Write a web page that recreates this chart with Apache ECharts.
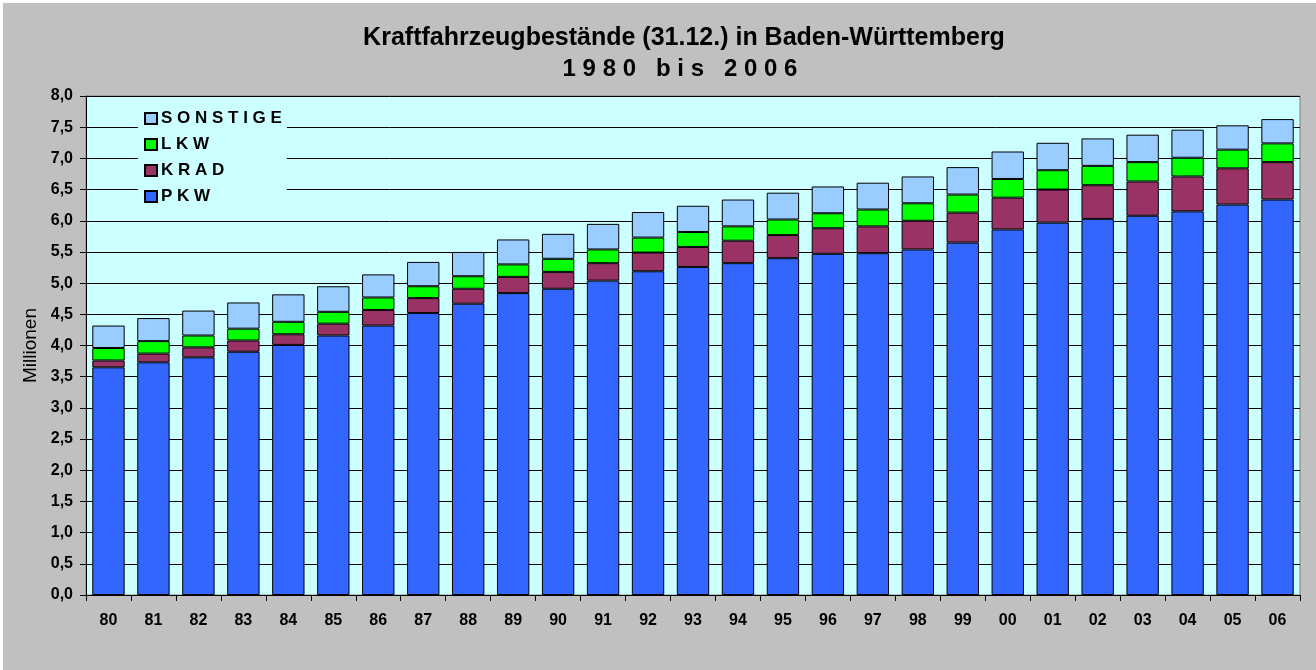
<!DOCTYPE html>
<html>
<head>
<meta charset="utf-8">
<script src="https://cdn.jsdelivr.net/npm/echarts@6/dist/echarts.min.js"></script>
<style>
	html,body{margin:0;padding:0;background:#fff;}
	#main{position:absolute;left:3px;top:3px;width:1313px;height:667px;background:#c0c0c0;}
</style>
</head>
<body>
<div id="main"></div>
<script type="text/javascript">
// Jahre (Kategorien)
var years = ['80','81','82','83','84','85','86','87','88','89','90','91','92','93','94','95','96','97','98','99','00','01','02','03','04','05','06'];
// Bestände in Millionen
var pkw   = [3.65,3.73,3.81,3.90,4.01,4.16,4.32,4.52,4.67,4.84,4.91,5.04,5.19,5.26,5.32,5.40,5.47,5.48,5.54,5.65,5.86,5.97,6.03,6.08,6.15,6.26,6.34];
var krad  = [0.11,0.14,0.16,0.18,0.17,0.19,0.25,0.24,0.24,0.26,0.27,0.28,0.30,0.32,0.36,0.37,0.41,0.43,0.46,0.48,0.51,0.53,0.54,0.55,0.56,0.58,0.60];
var lkw   = [0.20,0.20,0.19,0.19,0.20,0.19,0.20,0.19,0.20,0.20,0.21,0.22,0.24,0.24,0.23,0.25,0.24,0.27,0.28,0.29,0.30,0.31,0.31,0.31,0.30,0.30,0.30];
var sonst = [0.36,0.37,0.40,0.42,0.44,0.41,0.37,0.39,0.39,0.40,0.40,0.41,0.41,0.42,0.43,0.43,0.43,0.43,0.43,0.44,0.44,0.44,0.44,0.44,0.45,0.39,0.39];

var myChart = echarts.init(document.getElementById('main'));

function bar(name, data, color){
	return {
		name: name,
		type: 'bar',
		stack: 'kfz',
		data: data,
		barCategoryGap: '28%',
		itemStyle: {color: color, borderColor: '#000', borderWidth: 1},
		emphasis: {disabled: true}
	};
}

var option = {
	animation: false,
	textStyle: {fontFamily: 'Liberation Sans, Arial, sans-serif'},
	title: [{
		text: 'Kraftfahrzeugbestände (31.12.) in Baden-Württemberg',
		left: 681, top: 23, padding: 0, textAlign: 'center',
		textStyle: {fontSize: 25, fontWeight: 'bold', color: '#000'}
	},{
		text: '1 9 8 0   b i s   2 0 0 6',
		left: 677, top: 54, padding: 0, textAlign: 'center',
		textStyle: {fontSize: 24, fontWeight: 'bold', color: '#000'}
	}],
	legend: {
		orient: 'vertical',
		left: 135, top: 101,
		icon: 'rect',
		itemWidth: 12, itemHeight: 11,
		itemGap: 9,
		padding: [6, 5, 6, 6],
		backgroundColor: '#ccffff',
		data: ['S O N S T I G E', 'L K W', 'K R A D', 'P K W'],
		textStyle: {fontSize: 17, fontWeight: 'bold', color: '#000', padding: [0, 0, 0, -1]}
	},
	grid: {
		left: 83, top: 93, right: 16, bottom: 75,
		show: true, backgroundColor: '#ccffff', borderColor: '#808080', borderWidth: 1
	},
	xAxis: {
		type: 'category',
		data: years,
		axisLine: {lineStyle: {color: '#000'}},
		axisTick: {show: true, length: 6, lineStyle: {color: '#000'}},
		axisLabel: {fontSize: 16, fontWeight: 'bold', color: '#000', margin: 18}
	},
	yAxis: {
		type: 'value',
		min: 0, max: 8, interval: 0.5,
		name: 'Millionen',
		nameLocation: 'middle',
		nameGap: 44,
		nameTextStyle: {fontSize: 19, color: '#000'},
		axisLine: {show: true, lineStyle: {color: '#000'}},
		axisTick: {show: true, length: 6, lineStyle: {color: '#000'}},
		axisLabel: {
			fontSize: 16, fontWeight: 'bold', color: '#000', margin: 13,
			formatter: function(v){ return v.toFixed(1).replace('.', ','); }
		},
		splitLine: {lineStyle: {color: '#000', width: 1}}
	},
	series: [
		bar('P K W', pkw, '#3366ff'),
		bar('K R A D', krad, '#993366'),
		bar('L K W', lkw, '#00ff00'),
		bar('S O N S T I G E', sonst, '#99ccff')
	]
};
myChart.setOption(option);
</script>
</body>
</html>
